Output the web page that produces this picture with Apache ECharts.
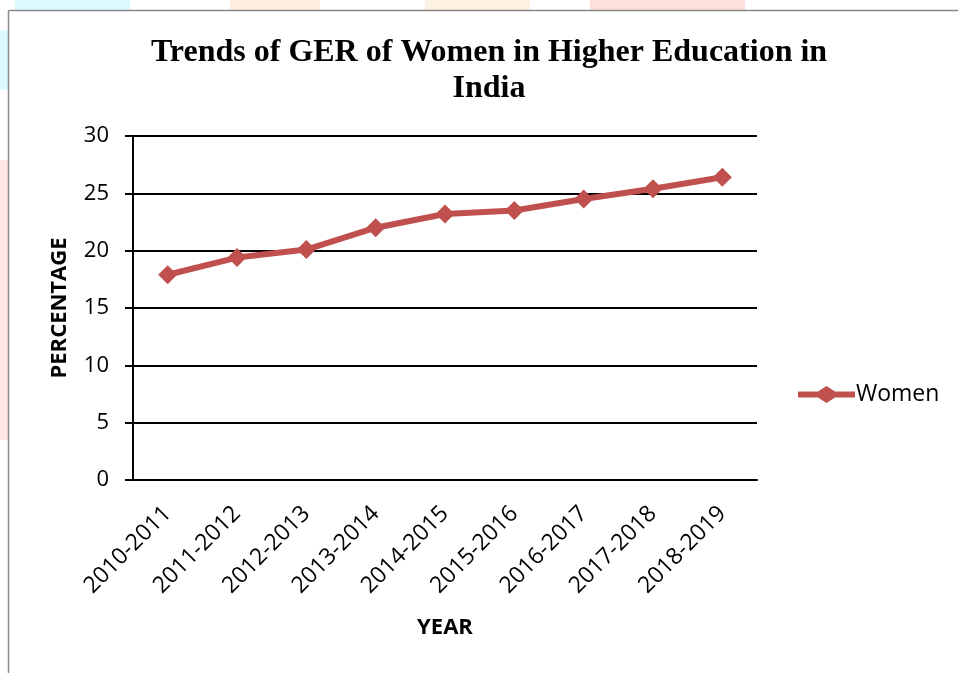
<!DOCTYPE html>
<html><head><meta charset="utf-8">
<script src="https://cdn.jsdelivr.net/npm/echarts@6/dist/echarts.min.js"></script>
<style>html,body{margin:0;padding:0;background:#fff}#c{width:958px;height:673px}</style>
</head><body><div id="c"></div>
<script>
const categories = ['2010-2011','2011-2012','2012-2013','2013-2014','2014-2015','2015-2016','2016-2017','2017-2018','2018-2019'];
const women = [17.9, 19.4, 20.1, 22.0, 23.2, 23.5, 24.5, 25.4, 26.4];
const yTicks = [0, 5, 10, 15, 20, 25, 30];

const legendIcon = 'path://M0,5.5 L20,5.5 L28.5,0 L37,5.5 L57,5.5 L57,11.5 L37,11.5 L28.5,17 L20,11.5 L0,11.5 Z';

const chart = echarts.init(document.getElementById('c'));
chart.setOption({
  animation: false,
  backgroundColor: '#fff',
  graphic: [
    { type: 'rect', shape: { x: 15, y: 0, width: 115, height: 10 }, style: { fill: '#dcfafd' }, z: -1 },
    { type: 'rect', shape: { x: 230, y: 0, width: 90, height: 10 }, style: { fill: '#fdeedd' }, z: -1 },
    { type: 'rect', shape: { x: 425, y: 0, width: 105, height: 10 }, style: { fill: '#fdf1e3' }, z: -1 },
    { type: 'rect', shape: { x: 590, y: 0, width: 155, height: 10 }, style: { fill: '#fde0dc' }, z: -1 },
    { type: 'rect', shape: { x: 0, y: 30, width: 8, height: 60 }, style: { fill: '#dcfafd' }, z: -1 },
    { type: 'rect', shape: { x: 0, y: 160, width: 8, height: 280 }, style: { fill: '#fde6e3' }, z: -1 },
    { type: 'line', shape: { x1: 8.5, y1: 10.5, x2: 958, y2: 10.5 }, style: { stroke: '#888', lineWidth: 1.5 } },
    { type: 'line', shape: { x1: 8.5, y1: 10.5, x2: 8.5, y2: 673 }, style: { stroke: '#888', lineWidth: 1.5 } }
  ],
  title: {
    text: 'Trends of GER of Women in Higher Education in\nIndia',
    left: 484, top: 30, textAlign: 'center',
    textStyle: { fontFamily: 'Liberation Serif', fontWeight: 'bold', fontSize: 32, lineHeight: 36, color: '#000' }
  },
  legend: {
    orient: 'vertical', left: 793, top: 378,
    itemWidth: 57, itemHeight: 17, itemGap: 10,
    textStyle: { fontFamily: 'Open Sans', fontSize: 23, color: '#000', padding: [0,0,0,-4] },
    data: [{ name: 'Women', icon: legendIcon, itemStyle: { color: '#C0504D' } }]
  },
  grid: { left: 133, right: 201, top: 136, bottom: 193, containLabel: false },
  xAxis: {
    type: 'category', data: categories, boundaryGap: true,
    name: 'YEAR', nameLocation: 'middle', nameGap: 137,
    nameTextStyle: { fontFamily: 'Open Sans', fontWeight: 'bold', fontSize: 22, color: '#000' },
    axisLine: { lineStyle: { color: '#000', width: 2 } },
    axisTick: { show: false },
    axisLabel: { rotate: 45, interval: 0, margin: 30, fontFamily: 'Open Sans', fontSize: 23, color: '#000' }
  },
  yAxis: {
    type: 'value', min: 0, max: 30, interval: 5,
    name: 'PERCENTAGE', nameLocation: 'middle', nameGap: 62, nameRotate: 90,
    nameTextStyle: { fontFamily: 'Open Sans', fontWeight: 'bold', fontSize: 22, color: '#000' },
    axisLine: { show: true, lineStyle: { color: '#000', width: 2 } },
    axisTick: { show: true, length: 8, lineStyle: { color: '#000', width: 2 } },
    axisLabel: { margin: 24, fontFamily: 'Open Sans', fontSize: 22, color: '#000',
      formatter: v => yTicks.includes(v) ? String(v) : '' },
    splitLine: { lineStyle: { color: '#000', width: 2 } }
  },
  series: [{
    name: 'Women', type: 'line', data: women,
    symbol: 'diamond', symbolSize: 19,
    lineStyle: { color: '#C0504D', width: 6 },
    itemStyle: { color: '#C0504D' }
  }]
});
</script></body></html>
